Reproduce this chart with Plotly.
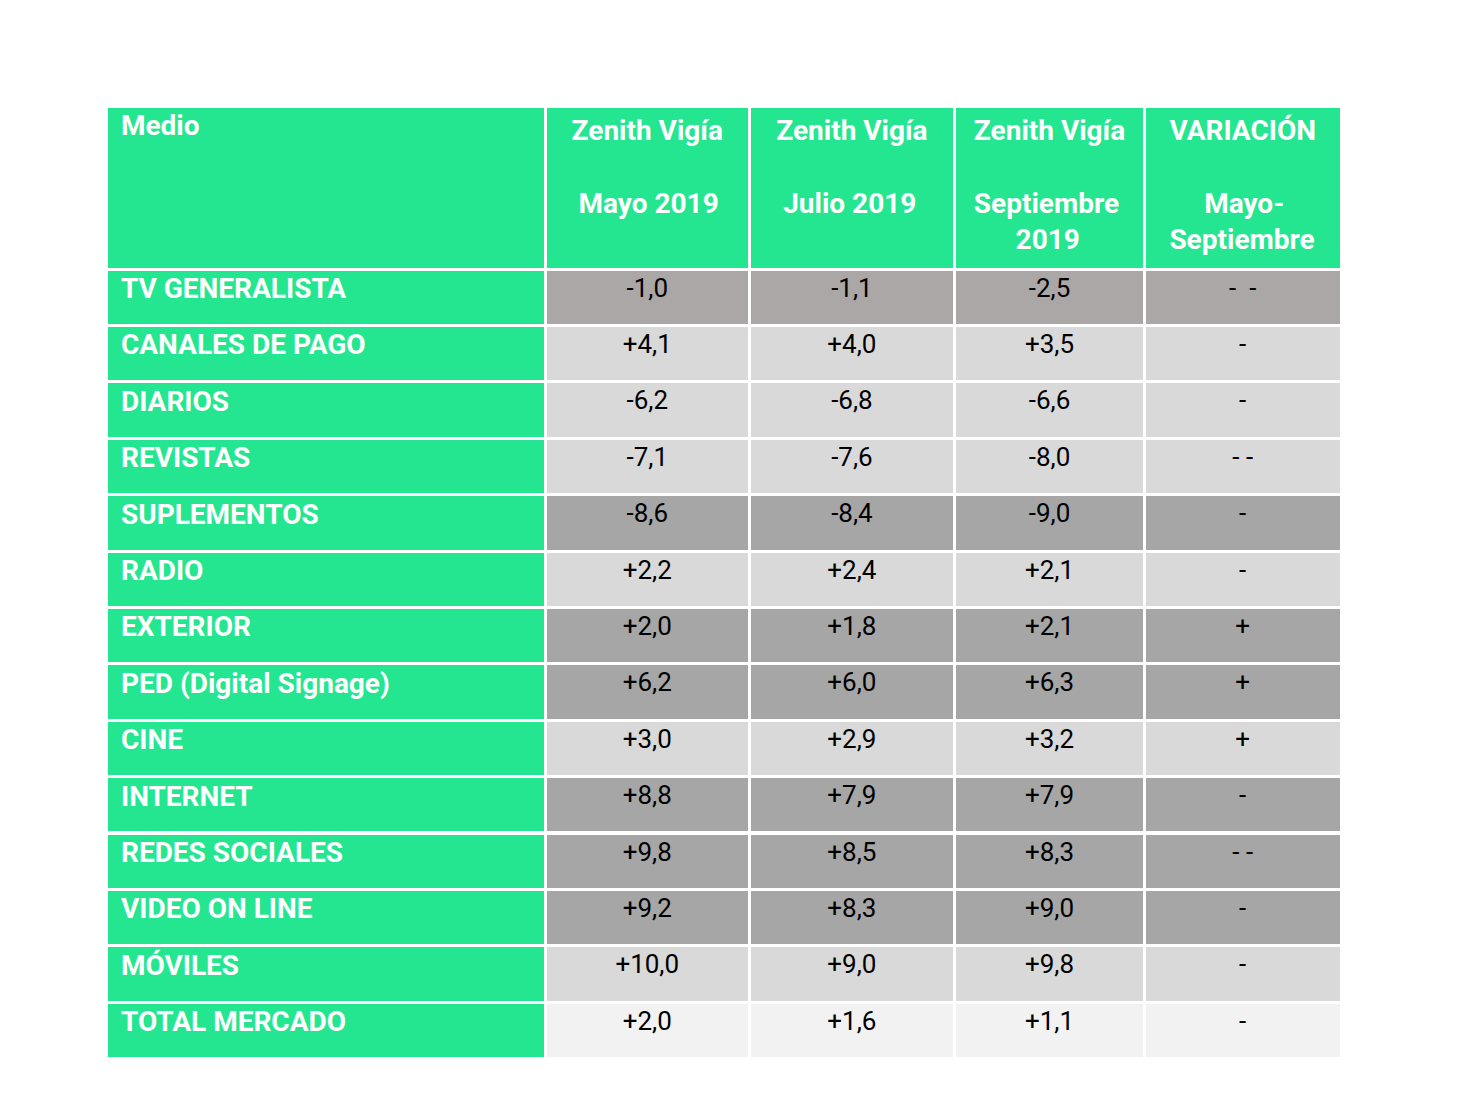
import plotly.graph_objects as go

medios = [
    "TV GENERALISTA", "CANALES DE PAGO", "DIARIOS", "REVISTAS", "SUPLEMENTOS",
    "RADIO", "EXTERIOR", "PED (Digital Signage)", "CINE", "INTERNET",
    "REDES SOCIALES", "VIDEO ON LINE", "MÓVILES", "TOTAL MERCADO",
]
mayo_2019 = [-1.0, 4.1, -6.2, -7.1, -8.6, 2.2, 2.0, 6.2, 3.0, 8.8, 9.8, 9.2, 10.0, 2.0]
julio_2019 = [-1.1, 4.0, -6.8, -7.6, -8.4, 2.4, 1.8, 6.0, 2.9, 7.9, 8.5, 8.3, 9.0, 1.6]
septiembre_2019 = [-2.5, 3.5, -6.6, -8.0, -9.0, 2.1, 2.1, 6.3, 3.2, 7.9, 8.3, 9.0, 9.8, 1.1]
variacion = ["-  -", "-", "-", "- -", "-", "-", "+", "+", "+", "-", "- -", "-", "-", "-"]

NB = "\u00a0"
# plotly keeps multi-line cell text left-aligned inside its block,
# so the short lines get a few non-breaking spaces to sit centred
headers = [
    NB + "Medio",
    "Zenith Vigía<br><br>" + NB + "Mayo 2019",
    "Zenith Vigía<br><br>" + NB + "Julio 2019",
    "Zenith Vigía<br><br>Septiembre<br>" + NB * 6 + "2019",
    "VARIACIÓN<br><br>" + NB * 5 + "Mayo-<br>Septiembre",
]

# row shading (style only)
DARK_TV = "#ABA7A6"
DARK = "#A6A6A6"
LIGHT = "#D9D9D9"
PALE = "#F2F2F2"
row_fill = [DARK_TV, LIGHT, LIGHT, LIGHT, DARK, LIGHT, DARK, DARK, LIGHT,
            DARK, DARK, DARK, LIGHT, PALE]
GREEN = "#25E690"
FONT = "Roboto, Noto Sans, sans-serif"


def fmt(v):
    return f"{v:+.1f}".replace(".", ",")


fig = go.Figure(
    go.Table(
        columnwidth=[438, 203, 205, 189, 196],
        header=dict(
            values=headers,
            fill_color=GREEN,
            line=dict(color="white", width=3),
            align=["left", "center", "center", "center", "center"],
            font=dict(family=FONT, size=28, color="white", weight="bold"),
            height=163,
        ),
        cells=dict(
            values=[
                [NB + m for m in medios],
                [fmt(v) for v in mayo_2019],
                [fmt(v) for v in julio_2019],
                [fmt(v) for v in septiembre_2019],
                variacion,
            ],
            fill_color=[[GREEN] * len(medios)] + [row_fill] * 4,
            line=dict(color="white", width=3),
            align=["left", "center", "center", "center", "center"],
            font=dict(
                family=FONT,
                size=[28, 26, 26, 26, 26],
                color=["white", "black", "black", "black", "black"],
                weight=["bold", "normal", "normal", "normal", "normal"],
            ),
            height=56.4,
        ),
        domain=dict(x=[98 / 1459, 1333 / 1459], y=[0, 1 - 98 / 1095]),
    )
)

fig.update_layout(
    width=1459,
    height=1095,
    margin=dict(l=0, r=0, t=0, b=0),
    paper_bgcolor="white",
)

fig.write_html("out.html")
